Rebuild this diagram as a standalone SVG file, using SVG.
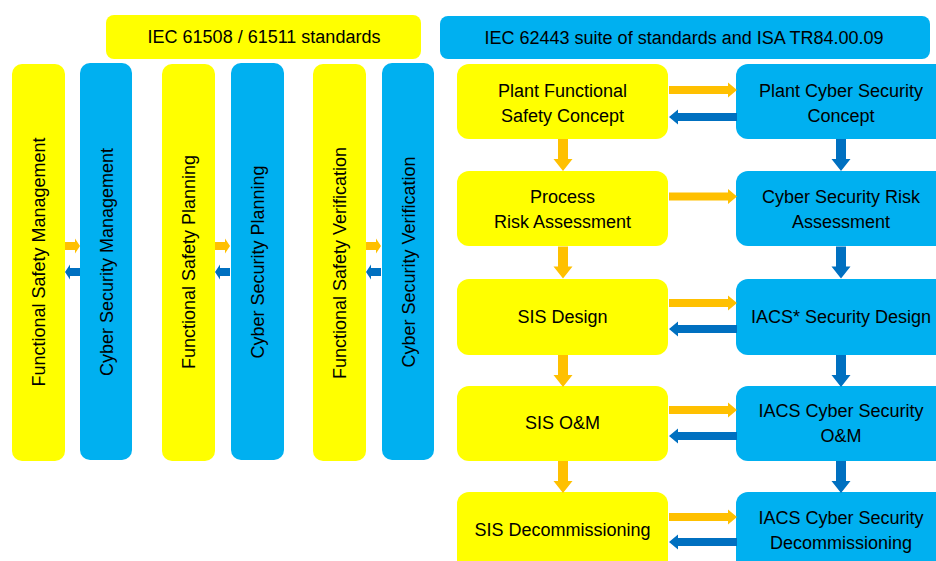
<svg xmlns="http://www.w3.org/2000/svg" xmlns:xlink="http://www.w3.org/1999/xlink" width="936" height="561" viewBox="0 0 936 561">
  <style>
    text { font-family: "Liberation Sans", Arial, sans-serif; font-size: 18px; fill: #000; text-anchor: middle; }
    .y { fill: #FFFF00; }
    .b { fill: #00B0F0; }
    .ao { fill: #FFC000; }
    .ab { fill: #0070C0; }
    .vt { dominant-baseline: central; }
  </style>
  <defs>
    <!-- right-pointing block arrow, tail at origin -->
    <path id="hArrow" d="M0,-4 H59 V-7.5 L68,0 L59,7.5 V4 H0 Z"/>
    <path id="hSmall" d="M0,-4 H10 V-7.5 L15,0 L10,7.5 V4 H0 Z"/>
    <!-- downward block arrow, tail at origin -->
    <path id="vArrow" d="M-5,0 V20 H-9.5 L0,32 L9.5,20 H5 V0 Z"/>
  </defs>

  <!-- standard headers -->
  <g id="hdr-iec61508">
    <rect class="y" x="106" y="15" width="315" height="44" rx="8"/>
    <text x="264" y="43">IEC 61508 / 61511 standards</text>
  </g>
  <g id="hdr-iec62443">
    <rect class="b" x="440" y="16" width="490" height="43" rx="8"/>
    <text x="684" y="44">IEC 62443 suite of standards and ISA TR84.00.09</text>
  </g>

  <!-- vertical lifecycle columns -->
  <g id="col-fs-management">
    <rect class="y" x="12" y="64" width="53" height="397" rx="10"/>
    <text class="vt" transform="translate(39,262) rotate(-90)">Functional Safety Management</text>
  </g>
  <g id="col-cs-management">
    <rect class="b" x="80" y="63" width="52" height="397" rx="10"/>
    <text class="vt" transform="translate(107,262) rotate(-90)">Cyber Security Management</text>
  </g>
  <g id="col-fs-planning">
    <rect class="y" x="162" y="64" width="53" height="397" rx="10"/>
    <text class="vt" transform="translate(189,262) rotate(-90)">Functional Safety Planning</text>
  </g>
  <g id="col-cs-planning">
    <rect class="b" x="231" y="63" width="53" height="397" rx="10"/>
    <text class="vt" transform="translate(258,262) rotate(-90)">Cyber Security Planning</text>
  </g>
  <g id="col-fs-verification">
    <rect class="y" x="313" y="64" width="53" height="397" rx="10"/>
    <text class="vt" transform="translate(340,263) rotate(-90)">Functional Safety Verification</text>
  </g>
  <g id="col-cs-verification">
    <rect class="b" x="382" y="63" width="52" height="397" rx="10"/>
    <text class="vt" transform="translate(409,262) rotate(-90)">Cyber Security Verification</text>
  </g>

  <!-- safety lifecycle (left) -->
  <g id="fs-concept">
    <rect class="y" x="457" y="64" width="211" height="75" rx="12"/>
    <text x="562.5" y="97">Plant Functional</text>
    <text x="562.5" y="122">Safety Concept</text>
  </g>
  <g id="fs-risk">
    <rect class="y" x="457" y="171" width="211" height="75" rx="12"/>
    <text x="562.5" y="203">Process</text>
    <text x="562.5" y="228">Risk Assessment</text>
  </g>
  <g id="fs-design">
    <rect class="y" x="457" y="279" width="211" height="76" rx="12"/>
    <text x="562.5" y="323">SIS Design</text>
  </g>
  <g id="fs-om">
    <rect class="y" x="457" y="386" width="211" height="75" rx="12"/>
    <text x="562.5" y="429">SIS O&amp;M</text>
  </g>
  <g id="fs-decom">
    <rect class="y" x="457" y="492" width="211" height="80" rx="12"/>
    <text x="562.5" y="536">SIS Decommissioning</text>
  </g>

  <!-- security lifecycle (right) -->
  <g id="cs-concept">
    <rect class="b" x="736" y="64" width="220" height="75" rx="12"/>
    <text x="841" y="97">Plant Cyber Security</text>
    <text x="841" y="122">Concept</text>
  </g>
  <g id="cs-risk">
    <rect class="b" x="736" y="171" width="220" height="75" rx="12"/>
    <text x="841" y="203">Cyber Security Risk</text>
    <text x="841" y="228">Assessment</text>
  </g>
  <g id="cs-design">
    <rect class="b" x="736" y="279" width="220" height="76" rx="12"/>
    <text x="841" y="323">IACS* Security Design</text>
  </g>
  <g id="cs-om">
    <rect class="b" x="736" y="386" width="220" height="75" rx="12"/>
    <text x="841" y="417">IACS Cyber Security</text>
    <text x="841" y="442">O&amp;M</text>
  </g>
  <g id="cs-decom">
    <rect class="b" x="736" y="492" width="220" height="80" rx="12"/>
    <text x="841" y="524">IACS Cyber Security</text>
    <text x="841" y="549">Decommissioning</text>
  </g>

  <!-- connectors -->
  <g id="connectors">
    <!-- between columns -->
    <use href="#hSmall" class="ao" transform="translate(65,246)"/>
    <use href="#hSmall" class="ab" transform="translate(80,272) scale(-1,1)"/>
    <use href="#hSmall" class="ao" transform="translate(215,246)"/>
    <use href="#hSmall" class="ab" transform="translate(230,272) scale(-1,1)"/>
    <use href="#hSmall" class="ao" transform="translate(366,246)"/>
    <use href="#hSmall" class="ab" transform="translate(381,272) scale(-1,1)"/>

    <!-- safety to security -->
    <use href="#hArrow" class="ao" transform="translate(669,90)"/>
    <use href="#hArrow" class="ab" transform="translate(737,117) scale(-1,1)"/>
    <use href="#hArrow" class="ao" transform="translate(669,196.5)"/>
    <use href="#hArrow" class="ao" transform="translate(669,303)"/>
    <use href="#hArrow" class="ab" transform="translate(737,329) scale(-1,1)"/>
    <use href="#hArrow" class="ao" transform="translate(669,410)"/>
    <use href="#hArrow" class="ab" transform="translate(737,436) scale(-1,1)"/>
    <use href="#hArrow" class="ao" transform="translate(669,517)"/>
    <use href="#hArrow" class="ab" transform="translate(737,542) scale(-1,1)"/>

    <!-- lifecycle flow -->
    <use href="#vArrow" class="ao" transform="translate(563,139)"/>
    <use href="#vArrow" class="ao" transform="translate(563,246.5)"/>
    <use href="#vArrow" class="ao" transform="translate(563,355)"/>
    <use href="#vArrow" class="ao" transform="translate(563,461)"/>
    <use href="#vArrow" class="ab" transform="translate(841,139)"/>
    <use href="#vArrow" class="ab" transform="translate(841,246.5)"/>
    <use href="#vArrow" class="ab" transform="translate(841,355)"/>
    <use href="#vArrow" class="ab" transform="translate(841,461)"/>
  </g>
</svg>
